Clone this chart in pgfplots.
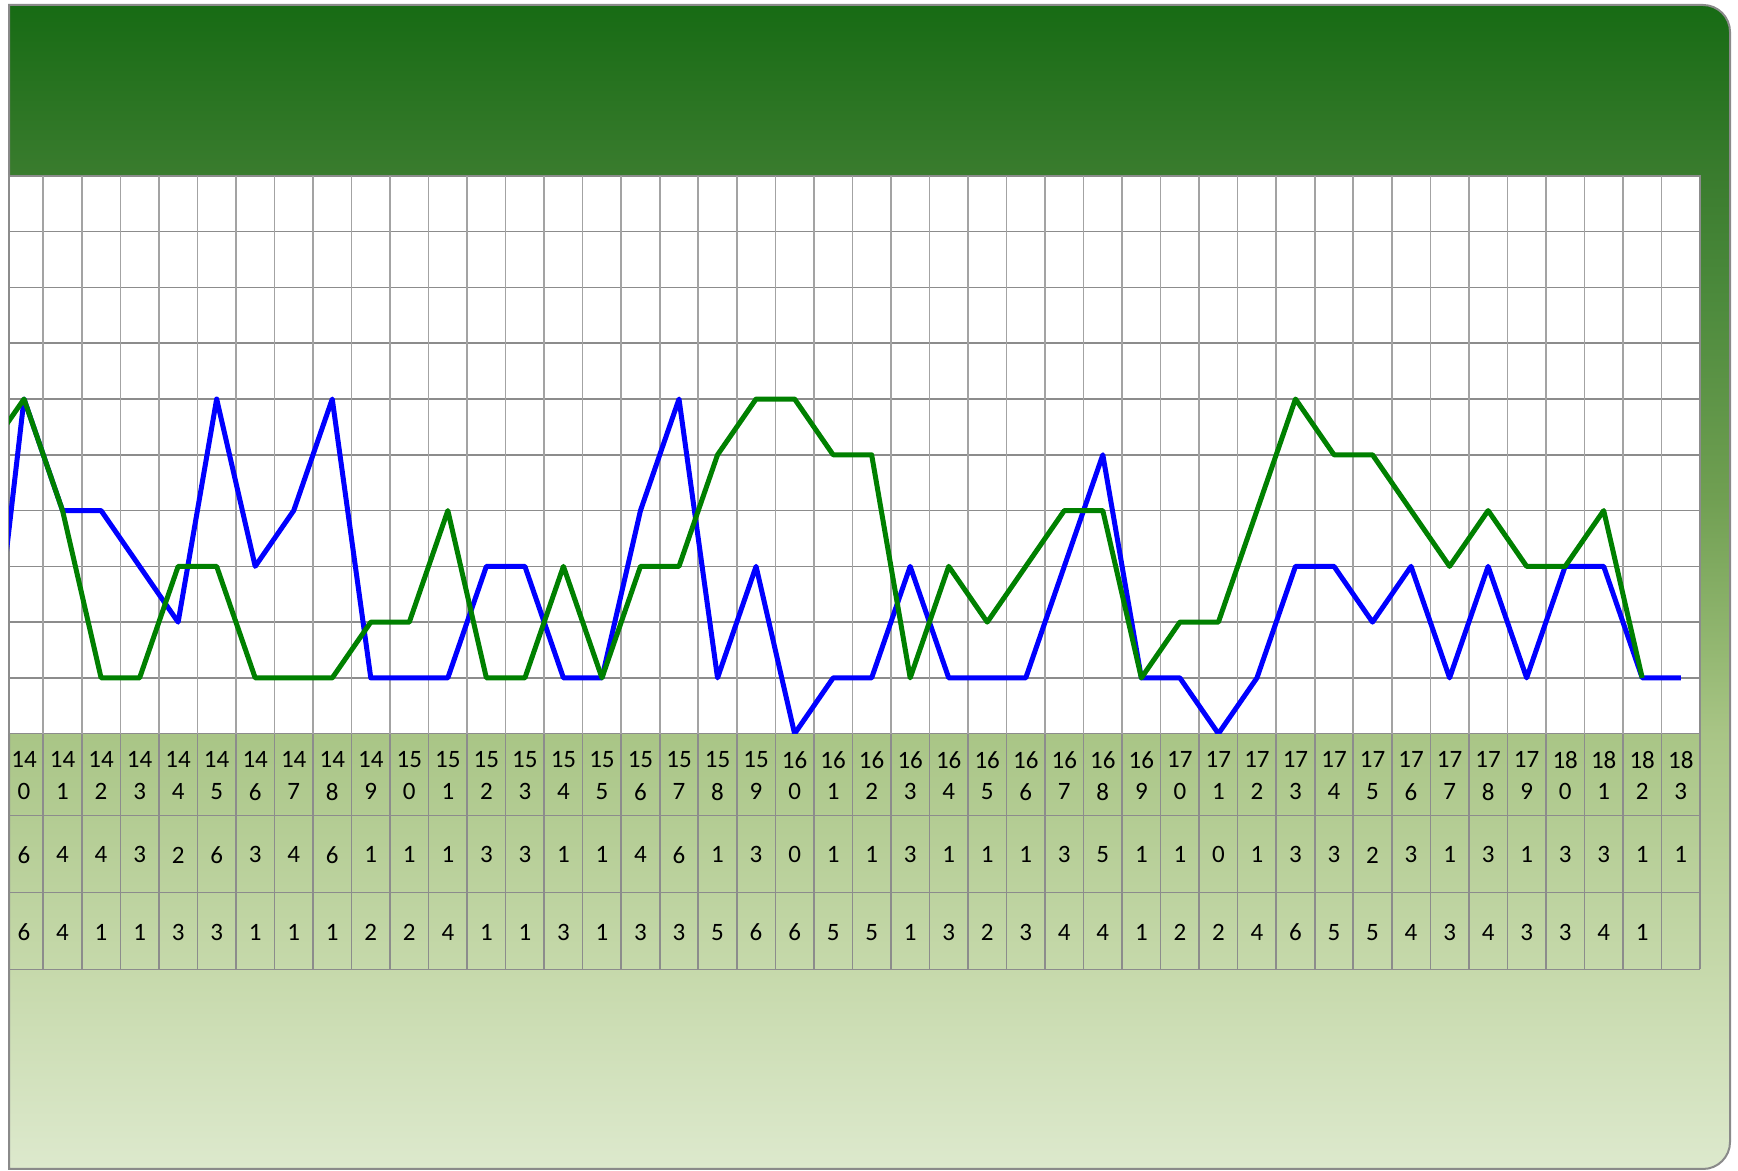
\documentclass[border=0pt]{standalone}
\usepackage{fontspec}
\setmainfont{Carlito}
\usepackage{pgfplots}
\usepackage{pgfplotstable}
\pgfplotsset{compat=1.18}

\definecolor{cA}{HTML}{176B14}
\definecolor{cB}{HTML}{3A7C2E}
\definecolor{cC}{HTML}{4C8A3C}
\definecolor{cD}{HTML}{709F52}
\definecolor{cE}{HTML}{93B771}
\definecolor{cF}{HTML}{A9C586}
\definecolor{cG}{HTML}{C6D9AB}
\definecolor{cH}{HTML}{DDE9CD}
\definecolor{gridh}{HTML}{8C8C8C}
\definecolor{gridv}{HTML}{A3A3A3}
\definecolor{framegray}{HTML}{8A8A8A}
\definecolor{serA}{HTML}{0000FF}
\definecolor{serB}{HTML}{008000}

\pgfdeclareverticalshading{bg}{100bp}{color(0bp)=(cH); color(25bp)=(cH); color(33.55bp)=(cG); color(43.64bp)=(cF); color(47.42bp)=(cE); color(53.87bp)=(cD); color(62.46bp)=(cC); color(67.65bp)=(cB); color(75bp)=(cA); color(100bp)=(cA)}

\pgfplotstableread{
x b g
139 0 5
140 6 6
141 4 4
142 4 1
143 3 1
144 2 3
145 6 3
146 3 1
147 4 1
148 6 1
149 1 2
150 1 2
151 1 4
152 3 1
153 3 1
154 1 3
155 1 1
156 4 3
157 6 3
158 1 5
159 3 6
160 0 6
161 1 5
162 1 5
163 3 1
164 1 3
165 1 2
166 1 3
167 3 4
168 5 4
169 1 1
170 1 2
171 0 2
172 1 4
173 3 6
174 3 5
175 2 5
176 3 4
177 1 3
178 3 4
179 1 3
180 3 3
181 3 4
182 1 1
183 1 nan
}\data

\def\nanstr{nan}
\newcommand\rowbox[2]{\vbox to #1{\vss\hbox to 0pt{\hss#2\hss}\vss}}
\newcommand\tablecell{%
  \pgfmathtruncatemacro\rowidx{\ticknum+1}%
  \pgfmathtruncatemacro\catnum{140+\ticknum}%
  \pgfmathtruncatemacro\cata{\catnum/10}%
  \pgfmathtruncatemacro\catb{\catnum-10*\cata}%
  \pgfplotstablegetelem{\rowidx}{b}\of\data\let\vb\pgfplotsretval
  \pgfplotstablegetelem{\rowidx}{g}\of\data\let\vg\pgfplotsretval
  \ifx\vg\nanstr\let\vg\empty\fi
  \vbox{\offinterlineskip
    \rowbox{26.2pt}{\cata}\rowbox{5.6pt}{\catb}\rowbox{57.6pt}{\vb}\rowbox{19.7pt}{\vg}}%
}

\begin{document}
\begin{tikzpicture}
\path[use as bounding box] (0,0) rectangle (869pt,585.5pt);
\fill[white] (0,0) rectangle (869pt,585.5pt);
\shadedraw[shading=bg, draw=framegray, line width=1pt]
  (4.5pt,1pt) -- (4.5pt,583pt) -- (851.5pt,583pt)
  arc[start angle=90, end angle=0, radius=13.5pt]
  -- (865pt,14.5pt)
  arc[start angle=0, end angle=-90, radius=13.5pt]
  -- cycle;
\begin{axis}[
  at={(4.5pt,218.65pt)}, anchor=south west,
  scale only axis, width=845.5pt, height=278.9pt,
  xmin=139.61, xmax=183.5, ymin=0, ymax=10,
  axis background/.style={fill=white},
  axis line style={draw=gridh, line width=0.8pt},
  xtick={140,...,183},
  xticklabel={\tablecell},
  xticklabel style={anchor=north, inner sep=0pt, outer sep=0pt,
    font=\fontsize{12.5pt}{15pt}\selectfont, text=black},
  major tick length=0pt,
  ytick={1,...,9}, yticklabels={},
  ymajorgrids, major grid style={draw=gridh, line width=0.8pt},
  clip mode=individual,
  unbounded coords=jump,
]
\pgfplotsinvokeforeach{140,...,182}{
  \draw[gridv, line width=0.8pt] (axis cs:#1.5,10) -- (axis cs:#1.5,0);
  \draw[gridh, line width=0.8pt] (axis cs:#1.5,0) -- ([yshift=-117.85pt]axis cs:#1.5,0);
}
\draw[gridh, line width=0.8pt] ([yshift=-117.85pt]axis cs:183.5,0) -- (axis cs:183.5,0);
\draw[gridh, line width=0.8pt] ([yshift=-41pt]axis cs:139.61,0) -- ([yshift=-41pt]axis cs:183.5,0);
\draw[gridh, line width=0.8pt] ([yshift=-79.5pt]axis cs:139.61,0) -- ([yshift=-79.5pt]axis cs:183.5,0);
\draw[gridh, line width=0.8pt] ([yshift=-117.85pt]axis cs:139.61,0) -- ([yshift=-117.85pt]axis cs:183.5,0);
\addplot[serA, line width=2.5pt, line join=round, mark=none] table[x=x, y=b] {\data};
\addplot[serB, line width=2.5pt, line join=round, mark=none] table[x=x, y=g] {\data};
\end{axis}
\end{tikzpicture}
\end{document}
